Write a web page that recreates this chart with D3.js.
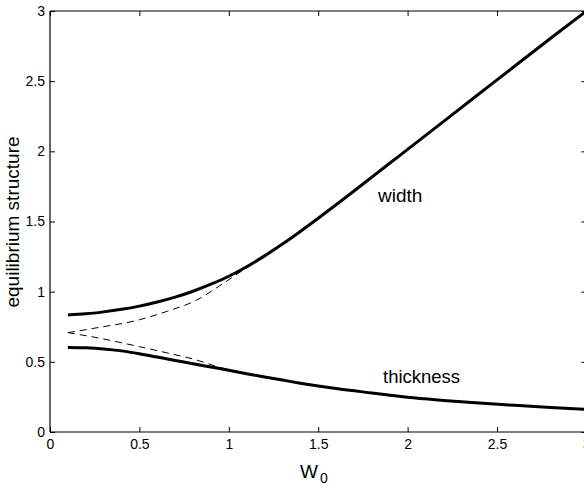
<!DOCTYPE html>
<html>
<head>
<meta charset="utf-8">
<script src="https://cdn.jsdelivr.net/npm/d3@7"></script>
<style>
  html, body { margin: 0; padding: 0; background: #fff; }
  svg { display: block; }
  text { font-family: "Liberation Sans", Arial, Helvetica, sans-serif; fill: #000; }
</style>
</head>
<body>
<svg id="chart" width="584" height="491"></svg>
<script>
// Equilibrium width and thickness versus W0
const w0Width = [0.1, 0.2, 0.3, 0.4, 0.5, 0.6, 0.7, 0.8, 0.9, 1.0, 1.1, 1.2, 1.3, 1.4, 1.5, 1.6, 1.7, 1.8, 1.9, 2.0, 2.2, 2.4, 2.6, 2.8, 3.0];
const widthVals = [0.834, 0.842, 0.856, 0.874, 0.897, 0.926, 0.961, 1.003, 1.053, 1.11, 1.178, 1.255, 1.339, 1.429, 1.523, 1.619, 1.717, 1.816, 1.915, 2.014, 2.212, 2.41, 2.608, 2.806, 3.0];

const w0Thick = [0.1, 0.2, 0.3, 0.4, 0.5, 0.6, 0.7, 0.8, 0.9, 1.0, 1.1, 1.2, 1.3, 1.4, 1.5, 1.6, 1.8, 2.0, 2.2, 2.4, 2.6, 2.8, 3.0];
const thickVals = [0.603, 0.600, 0.592, 0.578, 0.558, 0.534, 0.51, 0.486, 0.463, 0.44, 0.415, 0.392, 0.37, 0.348, 0.328, 0.31, 0.278, 0.247, 0.225, 0.206, 0.19, 0.175, 0.162];

// Approximate (dashed) branches
const w0DashUp = [0.1, 0.25, 0.5, 0.65, 0.82, 0.97, 1.1, 1.2, 1.3, 1.4, 1.5, 1.6, 1.8, 2.0];
const dashUpVals = [0.708, 0.74, 0.80, 0.858, 0.94, 1.06, 1.17, 1.25, 1.335, 1.427, 1.522, 1.619, 1.816, 2.014];
const w0DashLow = [0.1, 0.25, 0.5, 0.65, 0.82, 0.95, 1.1];
const dashLowVals = [0.708, 0.675, 0.608, 0.565, 0.513, 0.46, 0.415];

const xTicks = [0, 0.5, 1, 1.5, 2, 2.5, 3];
const yTicks = [0, 0.5, 1, 1.5, 2, 2.5, 3];
const xTickLabels = ["0", "0.5", "1", "1.5", "2", "2.5", "3"];
const yTickLabels = ["0", "0.5", "1", "1.5", "2", "2.5", "3"];

const svg = d3.select("#chart");
const x = d3.scaleLinear().domain([0, 3]).range([50, 586.4]);
const y = d3.scaleLinear().domain([0, 3]).range([432, 11]);

const tickLen = 5;

// Axes with inward ticks on all four sides
const axisBottom = d3.axisBottom(x).tickValues(xTicks).tickSize(-tickLen).tickPadding(7)
  .tickFormat((d, i) => xTickLabels[i]);
const axisTop = d3.axisTop(x).tickValues(xTicks).tickSize(-tickLen).tickFormat("");
const axisLeft = d3.axisLeft(y).tickValues(yTicks).tickSize(-tickLen).tickPadding(5)
  .tickFormat((d, i) => yTickLabels[i]);
const axisRight = d3.axisRight(y).tickValues(yTicks).tickSize(-tickLen).tickFormat("");

function styleAxis(g) {
  g.select(".domain").attr("stroke", "#000").attr("stroke-width", 1.2);
  g.selectAll(".tick line").attr("stroke", "#000").attr("stroke-width", 1);
  g.selectAll(".tick text").style("font-size", "14px")
    .style("font-family", "'Liberation Sans', Arial, Helvetica, sans-serif").attr("fill", "#000");
}

svg.append("g").attr("transform", `translate(0,${y(0)})`).call(axisBottom)
  .call(styleAxis).call(g => g.select(".domain").attr("d", `M${x(0)},0H${x(3)}`));
svg.append("g").attr("transform", `translate(0,${y(3)})`).call(axisTop)
  .call(styleAxis).call(g => g.select(".domain").attr("d", `M${x(0)},0H${x(3)}`));
svg.append("g").attr("transform", `translate(${x(0)},0)`).call(axisLeft)
  .call(styleAxis).call(g => g.select(".domain").attr("d", `M0,${y(0)}V${y(3)}`));
svg.append("g").attr("transform", `translate(${x(3)},0)`).call(axisRight)
  .call(styleAxis).call(g => g.select(".domain").attr("d", `M0,${y(0)}V${y(3)}`));

// Curves
const line = d3.line().x(d => x(d[0])).y(d => y(d[1])).curve(d3.curveMonotoneX);
const zip = (a, b) => a.map((v, i) => [v, b[i]]);

svg.append("path").datum(zip(w0DashUp, dashUpVals)).attr("d", line)
  .attr("fill", "none").attr("stroke", "#000").attr("stroke-width", 1).attr("stroke-dasharray", "7,5");
svg.append("path").datum(zip(w0DashLow, dashLowVals)).attr("d", line)
  .attr("fill", "none").attr("stroke", "#000").attr("stroke-width", 1).attr("stroke-dasharray", "7,5");

svg.append("path").datum(zip(w0Width, widthVals)).attr("d", line)
  .attr("fill", "none").attr("stroke", "#000").attr("stroke-width", 3);
svg.append("path").datum(zip(w0Thick, thickVals)).attr("d", line)
  .attr("fill", "none").attr("stroke", "#000").attr("stroke-width", 3);

// Curve annotations
svg.append("text").attr("x", 378).attr("y", 201.5).style("font-size", "19px").text("width");
svg.append("text").attr("x", 383).attr("y", 383).style("font-size", "18.5px").text("thickness");

// Axis titles
const xl = svg.append("text").attr("x", 300).attr("y", 478).style("font-size", "19px");
xl.append("tspan").text("W");
xl.append("tspan").attr("dy", 5).attr("dx", 2).style("font-size", "14px").text("0");

svg.append("text").attr("transform", `translate(19,222) rotate(-90)`)
  .attr("text-anchor", "middle").style("font-size", "19px").text("equilibrium structure");
</script>
</body>
</html>
